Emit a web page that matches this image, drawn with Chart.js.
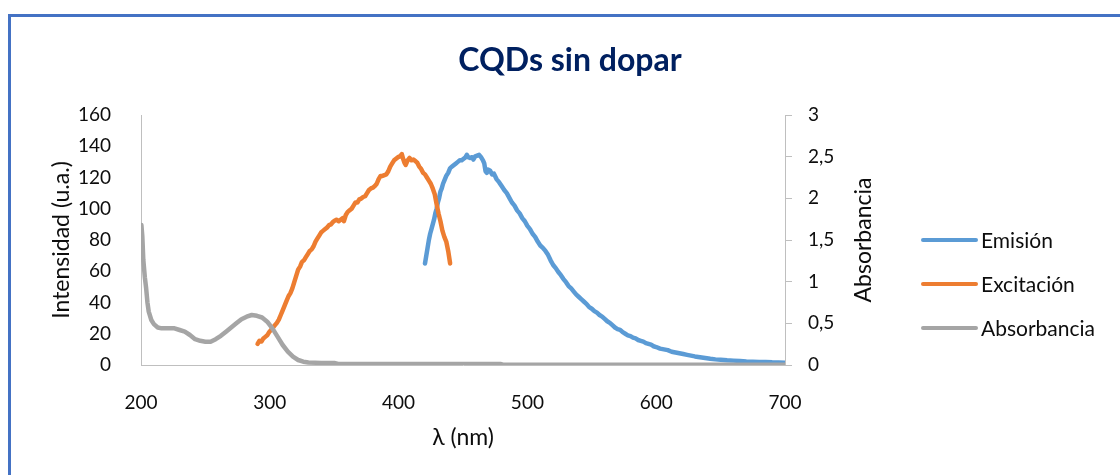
<!DOCTYPE html>
<html>
<head>
<meta charset="utf-8">
<script src="https://cdn.jsdelivr.net/npm/chart.js@4.4.1/dist/chart.umd.min.js"></script>
<style>
  html, body { margin: 0; padding: 0; background: #fff; overflow: hidden; }
  #frame { position: absolute; left: 8px; top: 14px; width: 1300px; height: 700px; border: 3px solid #4472c4; }
  #chart { position: absolute; left: 0; top: 0; }
</style>
</head>
<body>
<div id="frame"></div>
<canvas id="chart" width="1120" height="475"></canvas>
<script>
// Emisión (eje izquierdo, u.a.)
const emisionNm = [
  420.5, 421.5, 422.5, 423.5, 424.5, 425.5, 426.5, 427.5, 428.5, 429.5,
  430.5, 431.5, 432.5, 433.5, 434.5, 435.5, 437, 438.5, 440, 441.5,
  443, 444.5, 446, 447.5, 449, 450.5, 452, 453, 454, 455.5,
  457, 458, 459.5, 461, 462.5, 464, 465.5, 466.5, 467.5, 468.5,
  469.5, 471, 472.5, 474, 476, 478, 480, 482, 484, 486,
  488, 490, 492, 494, 496, 498, 500, 502, 504, 506,
  508, 510, 512, 514, 516, 518, 520, 522, 524, 526,
  528, 530, 532, 534, 536, 538, 540, 542, 544, 546,
  548, 550, 552, 554, 556, 558, 560, 562, 564, 566,
  568, 570, 572, 574, 576, 578, 580, 582, 584, 586,
  588, 590, 592, 594, 596, 598, 600, 603, 606, 609,
  612, 615, 618, 621, 624, 627, 630, 634, 638, 642,
  646, 650, 655, 660, 665, 670, 675, 680, 685, 690,
  695, 700
];
const emisionInt = [
  65, 70, 75, 80, 84, 87, 90, 93, 97, 100,
  104, 107, 111, 113, 116, 118, 121, 123, 126, 127,
  128, 129, 130, 131, 131, 132, 133, 134.5, 133, 132.5,
  133, 131.5, 133.5, 134, 134.5, 133, 131, 129, 124, 123,
  125, 124.5, 122, 122.5, 119, 117, 114.5, 112, 110, 107,
  104, 102, 99, 97, 94, 92, 89, 87, 84, 82,
  79, 76.5, 75, 73, 70.5, 67, 64, 62, 59.5, 57.5,
  55, 53, 50.5, 49, 47, 45, 43.5, 42, 40.5, 39,
  37, 36, 34.5, 33.5, 32, 31, 29.5, 28, 27, 25.5,
  24, 23, 22.5, 21, 20, 19, 18.5, 17.5, 17, 16,
  15.5, 15, 14, 13.5, 13, 12, 11.5, 10.5, 10, 9.5,
  8.5, 8, 7.5, 7, 6.5, 6, 5.5, 5, 4.5, 4,
  3.6, 3.4, 3, 2.8, 2.5, 2.2, 2.1, 2, 1.9, 1.7,
  1.6, 1.5
];

// Excitación (eje izquierdo, u.a.)
const excitacionNm = [
  290.5, 292, 293.5, 295, 296.5, 298, 299.5, 301, 302.5, 304,
  305.5, 307, 308.5, 310, 311.5, 313, 314.5, 316, 317.5, 319,
  320.5, 322, 323.5, 325, 326.5, 328, 329.5, 331, 332.5, 334,
  335.5, 337, 338.5, 340, 341.5, 343, 344.5, 346, 347.5, 349,
  350.5, 352, 353.5, 355, 356.5, 357.5, 359, 360.5, 362, 363.5,
  365, 366.5, 368, 369.5, 371, 372.5, 374, 375.5, 377, 378.5,
  380, 381.5, 383, 384.5, 386, 387.5, 389, 390.5, 392, 393.5,
  395, 396.5, 398, 399.5, 401, 402.5, 403.5, 404.5, 405.5, 407,
  408.5, 410, 411.5, 413, 414.5, 416, 417.5, 419, 420.5, 422,
  423.5, 425, 426.5, 428, 429.5, 431, 432.5, 434, 435.5, 437,
  438.5, 440
];
const excitacionInt = [
  13.5, 15.5, 15, 17, 18, 19, 21, 22.5, 24, 25.5,
  27, 29, 32, 35, 38, 41, 44, 46, 49, 53,
  57, 61, 63, 66, 67, 69, 71, 73, 74, 76,
  79, 81, 83, 85, 86, 87, 88, 89.5, 90, 91.5,
  92.5, 93, 92, 93, 94, 92, 96, 98, 99, 100,
  102, 104, 104, 106, 106.5, 107.5, 108, 110, 112, 113,
  113.5, 114.5, 116, 119, 121, 121, 121.5, 122, 124, 127,
  129, 131, 132, 133, 133.5, 135, 132, 129.5, 128, 131,
  132.5, 131, 131.5, 130.5, 129.5, 127, 125.5, 123, 122, 120,
  118, 116, 113, 109.5, 103, 97, 92, 86, 82, 79,
  73, 65
];

// Absorbancia (eje derecho)
const absorbanciaNm = [
  200.3, 201, 201.8, 203, 204, 205, 206, 208, 210, 213,
  216, 222, 226, 230, 234, 238, 242, 246, 250, 254,
  258, 262, 266, 270, 274, 278, 282, 286, 290, 294,
  298, 302, 306, 310, 314, 318, 322, 326, 330, 340,
  350, 353, 400, 479, 481, 700
];
const absorbanciaVal = [
  1.68, 1.55, 1.26, 1.05, 0.92, 0.75, 0.64, 0.54, 0.49, 0.45,
  0.44, 0.44, 0.44, 0.42, 0.4, 0.36, 0.31, 0.29, 0.28, 0.28,
  0.31, 0.35, 0.4, 0.45, 0.5, 0.55, 0.58, 0.6, 0.59, 0.57,
  0.52, 0.44, 0.34, 0.24, 0.16, 0.1, 0.06, 0.04, 0.03, 0.025,
  0.025, 0.012, 0.012, 0.012, 0.003, 0.003
];

const seriesNames = ['Emisión', 'Excitación', 'Absorbancia'];
const seriesColors = ['#5b9bd5', '#ed7d31', '#a5a5a5'];

const FONT = 'Lato, "Liberation Sans", sans-serif';
const TEXT = '#0d0d0d';
const AXIS = '#bfbfbf';

const toPoints = (xs, ys) => xs.map((x, i) => ({ x: x, y: ys[i] }));

// title, right axis title (reads bottom-up) and legend
const extras = {
  id: 'extras',
  afterDraw(chart) {
    const { ctx, chartArea } = chart;
    ctx.save();
    ctx.fillStyle = '#002060';
    ctx.font = 'bold 32px ' + FONT;
    ctx.textAlign = 'center';
    ctx.textBaseline = 'middle';
    ctx.fillText('CQDs sin dopar', 570, 61);

    ctx.fillStyle = TEXT;
    ctx.font = '23px ' + FONT;
    ctx.save();
    ctx.translate(chartArea.right + 79, (chartArea.top + chartArea.bottom) / 2);
    ctx.rotate(-Math.PI / 2);
    ctx.fillText('Absorbancia', 0, 0);
    ctx.restore();

    ctx.font = '21px ' + FONT;
    ctx.textAlign = 'left';
    const x0 = chartArea.right + 138;
    seriesNames.forEach((name, i) => {
      const y = 240 + i * 44;
      ctx.strokeStyle = seriesColors[i];
      ctx.lineWidth = 4;
      ctx.lineCap = 'round';
      ctx.beginPath();
      ctx.moveTo(x0, y);
      ctx.lineTo(x0 + 53, y);
      ctx.stroke();
      ctx.fillText(name, x0 + 58, y + 1);
    });
    ctx.restore();
  }
};

new Chart(document.getElementById('chart'), {
  type: 'line',
  data: {
    datasets: [
      { label: seriesNames[0], data: toPoints(emisionNm, emisionInt), borderColor: seriesColors[0], yAxisID: 'y', order: 3 },
      { label: seriesNames[1], data: toPoints(excitacionNm, excitacionInt), borderColor: seriesColors[1], yAxisID: 'y', order: 2 },
      { label: seriesNames[2], data: toPoints(absorbanciaNm, absorbanciaVal), borderColor: seriesColors[2], yAxisID: 'y1', order: 1 }
    ]
  },
  options: {
    responsive: false,
    animation: false,
    elements: {
      point: { radius: 0 },
      line: { borderWidth: 4.5, tension: 0, borderJoinStyle: 'round', borderCapStyle: 'round' }
    },
    layout: { padding: { left: 40, right: 215, top: 115, bottom: 0 } },
    plugins: {
      legend: { display: false },
      tooltip: { enabled: false },
      title: { display: false }
    },
    scales: {
      x: {
        type: 'linear', min: 200, max: 700,
        ticks: { stepSize: 100, padding: 18, color: TEXT, font: { family: FONT, size: 19 } },
        grid: { display: false },
        border: { display: true, color: AXIS, width: 1 },
        title: { display: true, text: 'λ (nm)', color: TEXT, font: { family: FONT, size: 23 }, padding: { top: 0, bottom: 24 } },
        afterFit: s => { s.height = 110; }
      },
      y: {
        position: 'left', min: 0, max: 160,
        ticks: { stepSize: 20, padding: 22, color: TEXT, font: { family: FONT, size: 19 } },
        grid: { display: false },
        border: { display: true, color: AXIS, width: 1 },
        title: { display: true, text: 'Intensidad (u.a.)', color: TEXT, font: { family: FONT, size: 23 }, padding: { top: 8, bottom: 0 } },
        afterFit: s => { s.width = 101; }
      },
      y1: {
        position: 'right', min: 0, max: 3,
        ticks: {
          stepSize: 0.5, padding: 16, color: TEXT, font: { family: FONT, size: 19 },
          callback: v => String(v).replace('.', ',')
        },
        grid: { display: true, drawOnChartArea: false, tickLength: 7, color: AXIS },
        border: { display: true, color: AXIS, width: 1 },
        afterFit: s => { s.width = 120; }
      }
    }
  },
  plugins: [extras]
});
</script>
</body>
</html>
